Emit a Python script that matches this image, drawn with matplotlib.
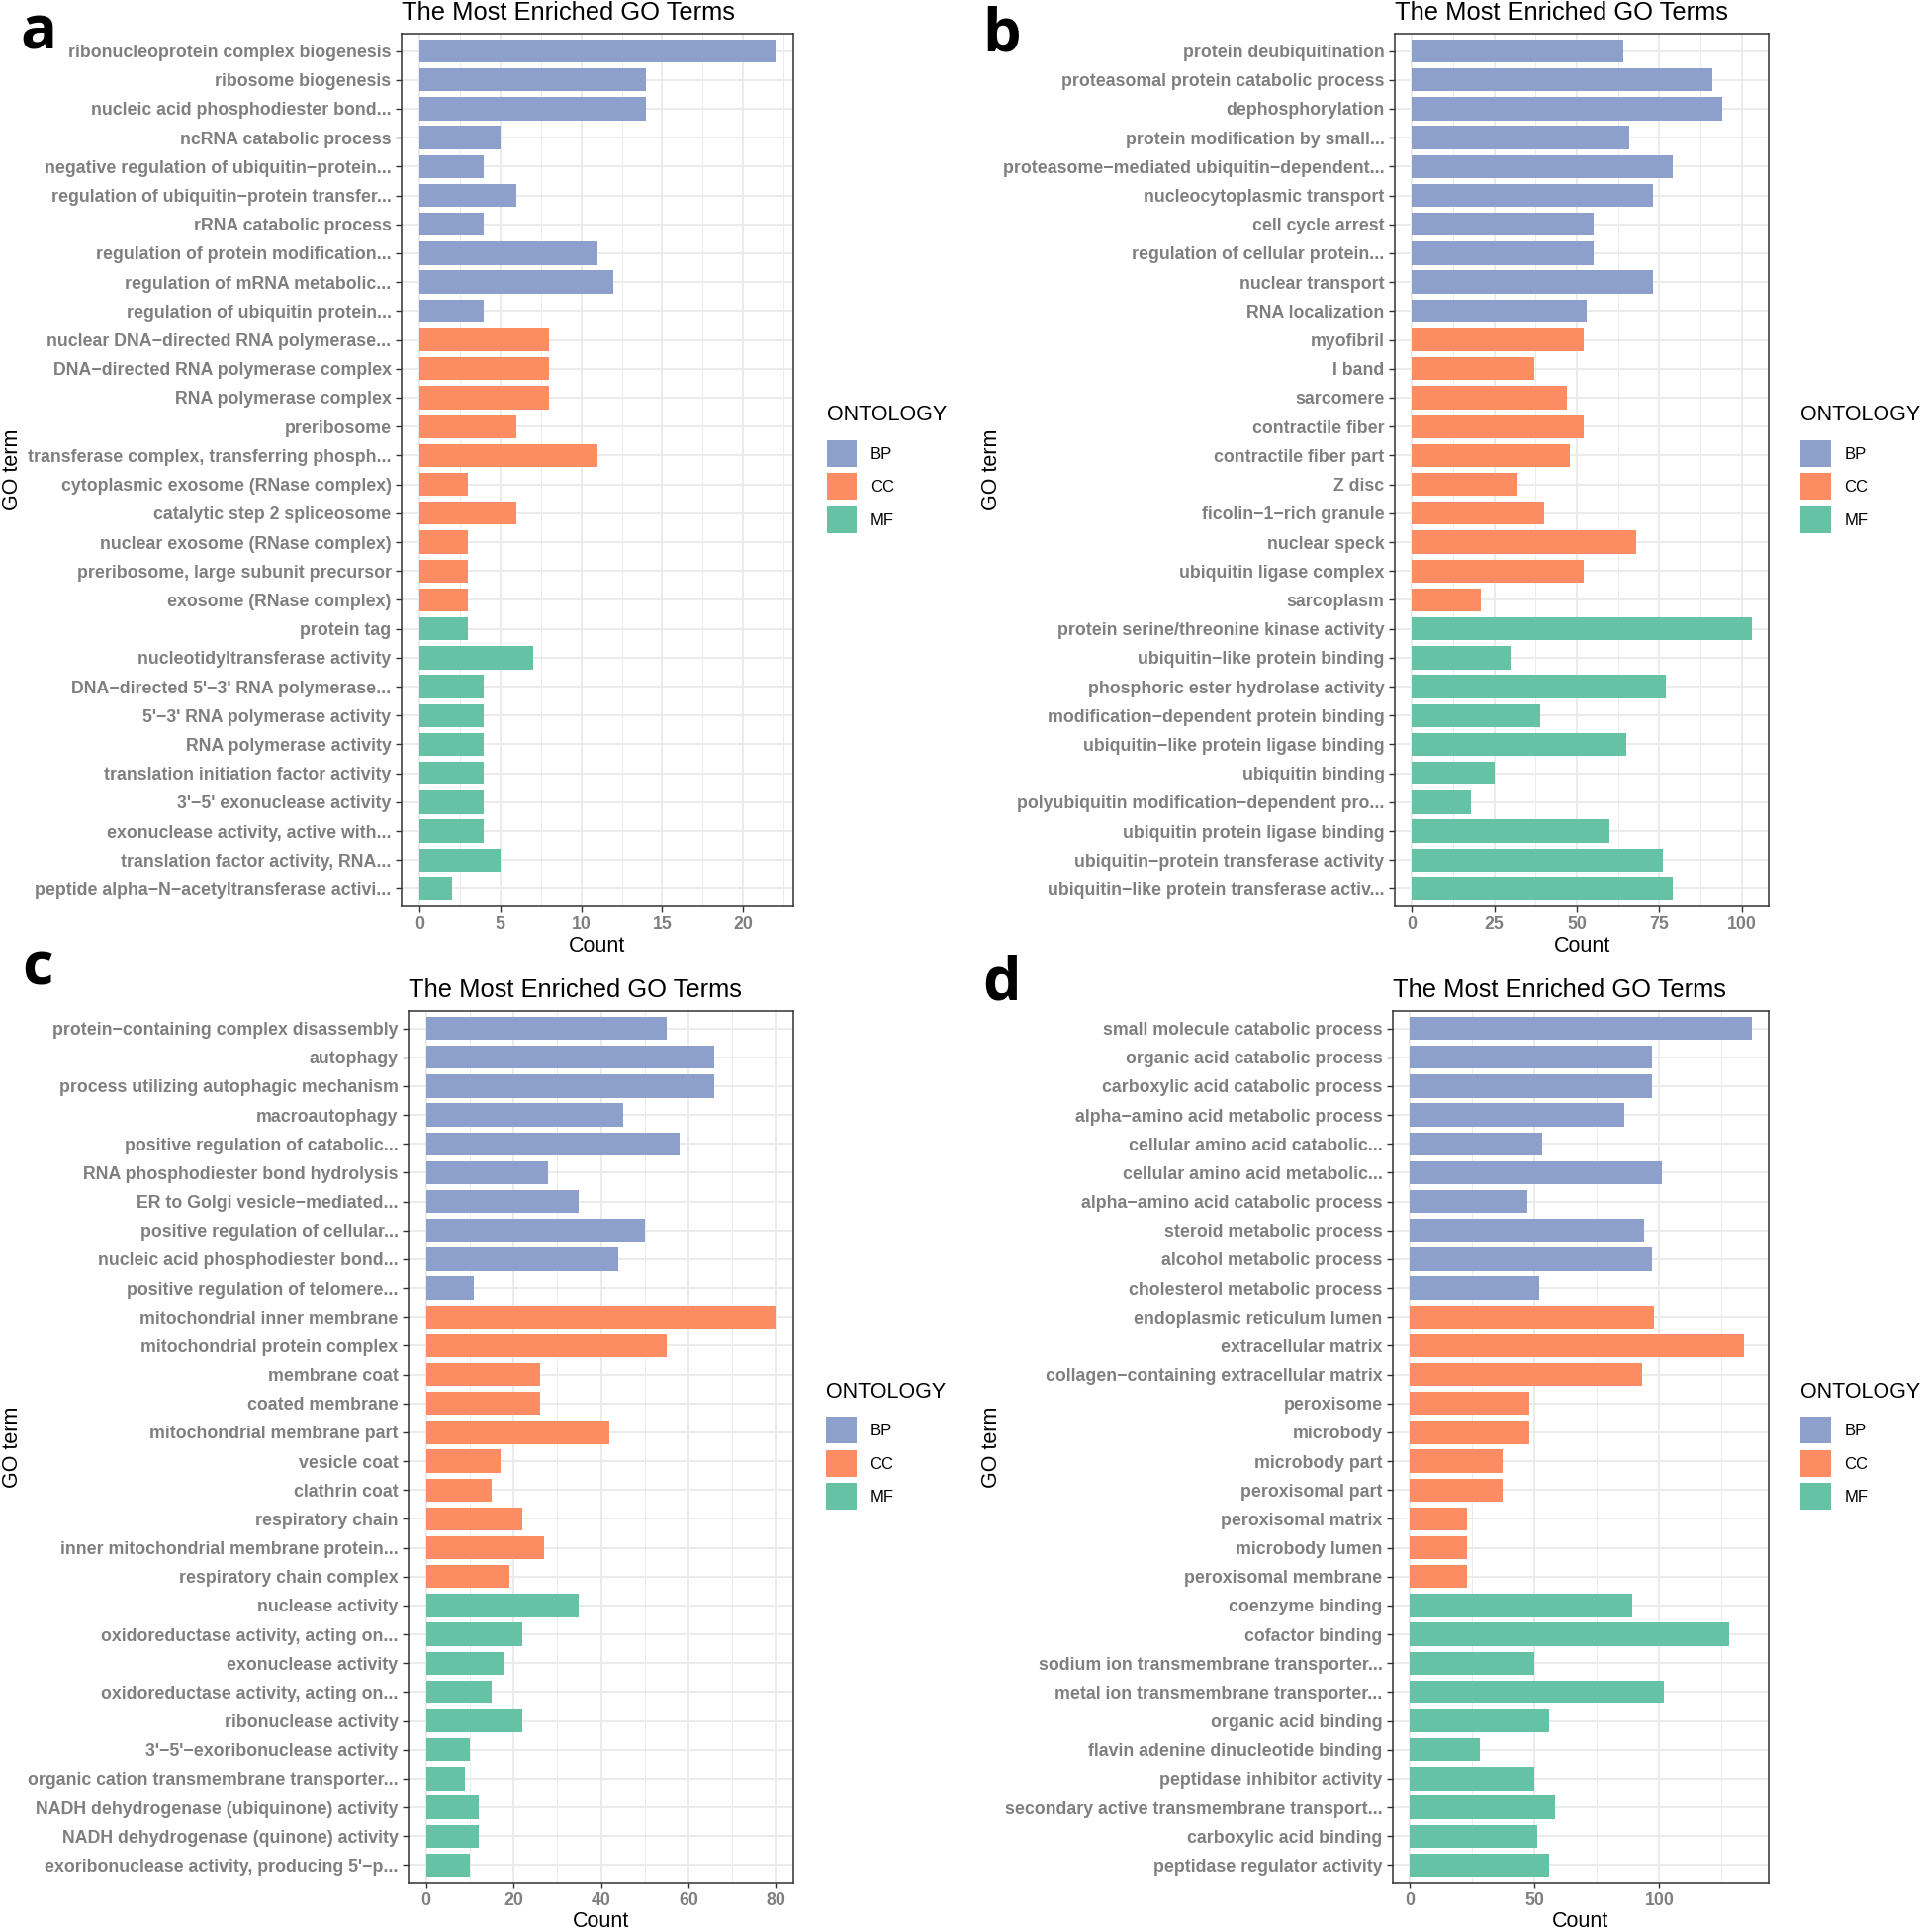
import matplotlib
matplotlib.use("Agg")
import matplotlib.pyplot as plt
from matplotlib.patches import Patch
import numpy as np

plt.rcParams['font.family'] = ['Liberation Sans', 'DejaVu Sans']

# ---- data ----
ontology_colors = {'BP': '#8DA0CB', 'CC': '#FC8D62', 'MF': '#66C2A5'}
ontology_a = ['BP'] * 10 + ['CC'] * 10 + ['MF'] * 10

terms_a = ["ribonucleoprotein complex biogenesis", "ribosome biogenesis",
           "nucleic acid phosphodiester bond...", "ncRNA catabolic process",
           "negative regulation of ubiquitin−protein...", "regulation of ubiquitin−protein transfer...",
           "rRNA catabolic process", "regulation of protein modification...",
           "regulation of mRNA metabolic...", "regulation of ubiquitin protein...",
           "nuclear DNA−directed RNA polymerase...", "DNA−directed RNA polymerase complex",
           "RNA polymerase complex", "preribosome", "transferase complex, transferring phosph...",
           "cytoplasmic exosome (RNase complex)", "catalytic step 2 spliceosome",
           "nuclear exosome (RNase complex)", "preribosome, large subunit precursor",
           "exosome (RNase complex)", "protein tag", "nucleotidyltransferase activity",
           "DNA−directed 5'−3' RNA polymerase...", "5'−3' RNA polymerase activity",
           "RNA polymerase activity", "translation initiation factor activity",
           "3'−5' exonuclease activity", "exonuclease activity, active with...",
           "translation factor activity, RNA...", "peptide alpha−N−acetyltransferase activi..."]
counts_a = [22, 14, 14, 5, 4, 6, 4, 11, 12, 4,
            8, 8, 8, 6, 11, 3, 6, 3, 3, 3,
            3, 7, 4, 4, 4, 4, 4, 4, 5, 2]

terms_b = ["protein deubiquitination", "proteasomal protein catabolic process",
           "dephosphorylation", "protein modification by small...",
           "proteasome−mediated ubiquitin−dependent...", "nucleocytoplasmic transport",
           "cell cycle arrest", "regulation of cellular protein...", "nuclear transport",
           "RNA localization", "myofibril", "I band", "sarcomere", "contractile fiber",
           "contractile fiber part", "Z disc", "ficolin−1−rich granule", "nuclear speck",
           "ubiquitin ligase complex", "sarcoplasm", "protein serine/threonine kinase activity",
           "ubiquitin−like protein binding", "phosphoric ester hydrolase activity",
           "modification−dependent protein binding", "ubiquitin−like protein ligase binding",
           "ubiquitin binding", "polyubiquitin modification−dependent pro...",
           "ubiquitin protein ligase binding", "ubiquitin−protein transferase activity",
           "ubiquitin−like protein transferase activ..."]
counts_b = [64, 91, 94, 66, 79, 73, 55, 55, 73, 53,
            52, 37, 47, 52, 48, 32, 40, 68, 52, 21,
            103, 30, 77, 39, 65, 25, 18, 60, 76, 79]

terms_c = ["protein−containing complex disassembly", "autophagy",
           "process utilizing autophagic mechanism", "macroautophagy",
           "positive regulation of catabolic...", "RNA phosphodiester bond hydrolysis",
           "ER to Golgi vesicle−mediated...", "positive regulation of cellular...",
           "nucleic acid phosphodiester bond...", "positive regulation of telomere...",
           "mitochondrial inner membrane", "mitochondrial protein complex", "membrane coat",
           "coated membrane", "mitochondrial membrane part", "vesicle coat", "clathrin coat",
           "respiratory chain", "inner mitochondrial membrane protein...",
           "respiratory chain complex", "nuclease activity", "oxidoreductase activity, acting on...",
           "exonuclease activity", "oxidoreductase activity, acting on...",
           "ribonuclease activity", "3'−5'−exoribonuclease activity",
           "organic cation transmembrane transporter...", "NADH dehydrogenase (ubiquinone) activity",
           "NADH dehydrogenase (quinone) activity", "exoribonuclease activity, producing 5'−p..."]
counts_c = [55, 66, 66, 45, 58, 28, 35, 50, 44, 11,
            80, 55, 26, 26, 42, 17, 15, 22, 27, 19,
            35, 22, 18, 15, 22, 10, 9, 12, 12, 10]

terms_d = ["small molecule catabolic process", "organic acid catabolic process",
           "carboxylic acid catabolic process", "alpha−amino acid metabolic process",
           "cellular amino acid catabolic...", "cellular amino acid metabolic...",
           "alpha−amino acid catabolic process", "steroid metabolic process",
           "alcohol metabolic process", "cholesterol metabolic process",
           "endoplasmic reticulum lumen", "extracellular matrix",
           "collagen−containing extracellular matrix", "peroxisome", "microbody",
           "microbody part", "peroxisomal part", "peroxisomal matrix", "microbody lumen",
           "peroxisomal membrane", "coenzyme binding", "cofactor binding",
           "sodium ion transmembrane transporter...", "metal ion transmembrane transporter...",
           "organic acid binding", "flavin adenine dinucleotide binding",
           "peptidase inhibitor activity", "secondary active transmembrane transport...",
           "carboxylic acid binding", "peptidase regulator activity"]
counts_d = [137, 97, 97, 86, 53, 101, 47, 94, 97, 52,
            98, 134, 93, 48, 48, 37, 37, 23, 23, 23,
            89, 128, 50, 102, 56, 28, 50, 58, 51, 56]

ticks_a = [0, 5, 10, 15, 20]
ticks_b = [0, 25, 50, 75, 100]
ticks_c = [0, 20, 40, 60, 80]
ticks_d = [0, 50, 100]

W, H = 1946, 1953
fig = plt.figure(figsize=(W / 100, H / 100), dpi=100)

label_grey = '#7F7F7F'
frame = '#333333'
grid_c = '#EBEBEB'


def panel(rect, terms, counts, ticks, letter, letter_xy):
    ax = fig.add_axes(rect)
    n = len(terms)
    y = np.arange(n)
    cols = [ontology_colors[o] for o in ontology_a]
    ax.barh(y, counts, height=0.8, color=cols, zorder=3)
    vmax = max(counts)
    ax.set_xlim(-0.05 * vmax, 1.05 * vmax)
    ax.set_ylim(n - 0.4, -0.6)
    ax.set_yticks(y)
    ax.set_yticklabels(terms, fontsize=12.8, fontweight='bold', color=label_grey)
    ax.set_xticks(ticks)
    ax.set_xticklabels([str(t) for t in ticks], fontsize=12.8, fontweight='bold', color=label_grey)
    step = ticks[1] - ticks[0]
    minor = np.arange(ticks[0] + step / 2, 1.05 * vmax, step)
    ax.set_xticks(minor, minor=True)
    ax.tick_params(axis='both', which='major', length=4.5, width=1.0, color=frame, pad=3)
    ax.tick_params(axis='x', which='minor', length=0)
    ax.grid(True, which='major', color=grid_c, lw=1.4, zorder=0)
    ax.grid(True, which='minor', axis='x', color=grid_c, lw=0.7, zorder=0)
    ax.set_axisbelow(True)
    for s in ax.spines.values():
        s.set_color(frame)
        s.set_linewidth(1.1)
    ax.set_title("The Most Enriched GO Terms", loc='left', fontsize=18.4, pad=10)
    ax.set_xlabel("Count", fontsize=15.5, labelpad=1.5)
    handles = [Patch(facecolor=ontology_colors[k], edgecolor='none', label=k)
               for k in ['BP', 'CC', 'MF']]
    leg = ax.legend(handles=handles, title="ONTOLOGY", loc='center left',
                    bbox_to_anchor=(1.085, 0.501), frameon=False, fontsize=12,
                    title_fontsize=15.5, handlelength=1.85, handleheight=2.1,
                    labelspacing=0.4, handletextpad=0.8, borderpad=0, borderaxespad=0)
    leg._legend_box.align = "left"
    leg._legend_box.sep = 10.5
    fig.text(letter_xy[0] / W, 1 - letter_xy[1] / H, letter, fontsize=44,
             fontweight='bold', family=['Open Sans', 'DejaVu Sans'], va='baseline', ha='left')
    return ax


def frac(left, right, top, bottom):
    return [left / W, 1 - bottom / H, (right - left) / W, (bottom - top) / H]


ax_a = panel(frac(406, 802, 34, 916), terms_a, counts_a, ticks_a, 'a', (20, 50))
ax_b = panel(frac(1410, 1788, 34, 916), terms_b, counts_b, ticks_b, 'b', (993, 52))
ax_c = panel(frac(413, 802, 1022, 1903), terms_c, counts_c, ticks_c, 'c', (22, 996))
ax_d = panel(frac(1408, 1788, 1022, 1903), terms_d, counts_d, ticks_d, 'd', (993, 1010))

for x0, (top, bottom) in [(13, (34, 916)), (1003, (34, 916)), (13, (1022, 1903)), (1003, (1022, 1903))]:
    fig.text(x0 / W, 1 - (top + bottom) / 2 / H, "GO term", rotation=90,
             fontsize=15.5, va='center', ha='center')

fig.savefig("out.png", dpi=100)
